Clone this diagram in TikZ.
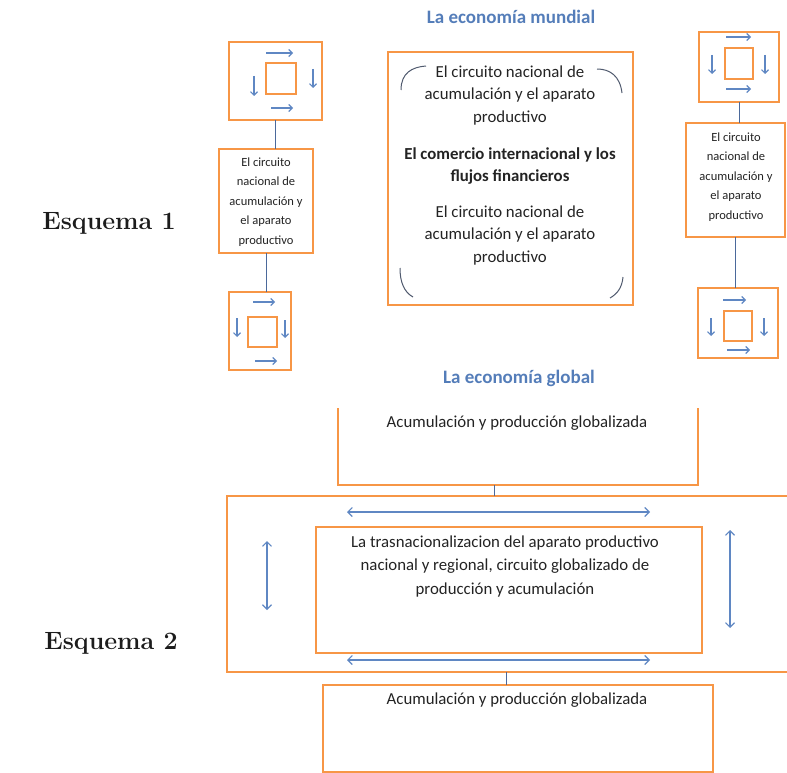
\documentclass[tikz,border=0pt]{standalone}
\usepackage{fontspec}
\newfontfamily\cf{Carlito}
\usetikzlibrary{arrows.meta}
\definecolor{org}{RGB}{247,150,70}
\definecolor{arr}{RGB}{95,135,195}
\definecolor{ttl}{RGB}{84,125,185}
\definecolor{txt}{RGB}{35,35,35}
\definecolor{conn}{RGB}{75,105,155}
\definecolor{brk}{RGB}{80,90,110}
\tikzset{
  obox/.style={draw=org, line width=2pt, inner sep=0pt, outer sep=0pt},
  sarr/.style={draw=arr, line width=1.1pt, -{Straight Barb[length=3.5pt,width=7pt]}},
  darr/.style={draw=arr, line width=1.1pt, {Straight Barb[length=4.5pt,width=9pt]}-{Straight Barb[length=4.5pt,width=9pt]}},
  conline/.style={draw=conn, line width=1pt},
  brkline/.style={draw=brk, line width=1pt},
  ttltext/.style={text=ttl, font=\cf\bfseries\fontsize{19}{22}\selectfont},
  esqtext/.style={text=txt!80!black, font=\bfseries\fontsize{25}{28}\selectfont, inner sep=0pt},
  bigtext/.style={text=txt, font=\cf\fontsize{16.8}{22.5}\selectfont, align=center, inner sep=0pt},
  smalltext/.style={text=txt, font=\cf\fontsize{12.5}{19.5}\selectfont, align=center, inner sep=0pt},
}
\begin{document}
\begin{tikzpicture}[x=1pt,y=-1pt]
\useasboundingbox (0,0) rectangle (787,773);

% titles
\node[ttltext] (t1) at (511,17) {La economía mundial};
\node[esqtext, anchor=base east] (e1) at (176,229) {Esquema 1};
\node[esqtext, anchor=base east] (e2) at (178,649) {Esquema 2};

% ---- left column ----
\node[obox, minimum width=93pt, minimum height=78pt] (lt) at (275.5,81) {};
\node[obox, minimum width=30pt, minimum height=31pt] (lti) at (281,78.5) {};
\draw[sarr] (266,53) -- (293,53);
\draw[sarr] (271,108) -- (293,108);
\draw[sarr] (254,76) -- (254,96);
\draw[sarr] (313,69) -- (313,88);

\node[obox, minimum width=94pt, minimum height=104pt] (lm) at (266,201) {};
\node[smalltext] (lmt) at (266,202) {El circuito\\nacional de\\acumulación y\\el aparato\\productivo};

\node[obox, minimum width=62pt, minimum height=78pt] (lb) at (260,331) {};
\node[obox, minimum width=29pt, minimum height=30pt] (lbi) at (262.5,332) {};
\draw[sarr] (253,302) -- (275,302);
\draw[sarr] (255,361) -- (277,361);
\draw[sarr] (237,318) -- (237,337);
\draw[sarr] (285,320) -- (285,338);

\draw[conline] (lt.south) -- (lt.south |- lm.north);
\draw[conline] (lm.south) -- (lm.south |- lb.north);

% ---- center box ----
\node[obox, minimum width=245pt, minimum height=253pt] (cb) at (510.5,178.5) {};
\node[bigtext] (cb1) at (510,95.5) {El circuito nacional de\\acumulación y el aparato\\productivo};
\node[bigtext, font=\cf\bfseries\fontsize{16.8}{22.5}\selectfont] (cb2) at (510,166) {El comercio internacional y los\\flujos financieros};
\node[bigtext] (cb3) at (510,235.5) {El circuito nacional de\\acumulación y el aparato\\productivo};
\draw[brkline] (401,90) .. controls (401,73) and (412,67) .. (426,66);
\draw[brkline] (597,69) .. controls (610,69) and (620,76) .. (622,93);
\draw[brkline] (400,268) .. controls (400,282) and (404,292) .. (413,297);
\draw[brkline] (623,277) .. controls (622,288) and (617,294) .. (610,298);

% ---- right column ----
\node[obox, minimum width=80pt, minimum height=70pt] (rt) at (739,67) {};
\node[obox, minimum width=28pt, minimum height=31pt] (rti) at (739,63.5) {};
\draw[sarr] (726,37) -- (751,37);
\draw[sarr] (726,89) -- (751,89);
\draw[sarr] (712,55) -- (712,74);
\draw[sarr] (765,55) -- (765,74);

\node[obox, minimum width=99pt, minimum height=114pt] (rm) at (735.5,180) {};
\node[smalltext] (rmt) at (736,177) {El circuito\\nacional de\\acumulación y\\el aparato\\productivo};

\node[obox, minimum width=80pt, minimum height=70pt] (rb) at (738,323) {};
\node[obox, minimum width=28pt, minimum height=30pt] (rbi) at (738,325.5) {};
\draw[sarr] (723,300) -- (746,300);
\draw[sarr] (727,350) -- (750,350);
\draw[sarr] (711,318) -- (711,336);
\draw[sarr] (764,318) -- (764,336);

\draw[conline] (rt.south) -- (rt.south |- rm.north);
\draw[conline] (rm.south) -- (rm.south |- rb.north);

% ---- Esquema 2 ----
\node[ttltext] (t2) at (519,378) {La economía global};

\coordinate (br1) at (338,408);
\coordinate (br2) at (338,485);
\coordinate (br3) at (698,485);
\coordinate (br4) at (698,408);
\draw[org, line width=2pt] (br1) -- (br2) -- (br3) -- (br4);
\node[bigtext] (bt) at (517,423) {Acumulación y producción globalizada};

\coordinate (g1) at (787,496);
\coordinate (g2) at (227,496);
\coordinate (g3) at (227,672);
\coordinate (g4) at (787,672);
\draw[org, line width=2pt] (g1) -- (g2) -- (g3) -- (g4);

\coordinate (ctop) at (494,485);
\coordinate (cbot) at (494,496);
\draw[conline] (ctop) -- (cbot);

\node[obox, minimum width=386pt, minimum height=126pt] (ib) at (509,590) {};
\node[bigtext, font=\cf\fontsize{16.8}{23.5}\selectfont] (ibt) at (505,566.5) {La trasnacionalizacion del aparato productivo\\nacional y regional, circuito globalizado de\\producción y acumulación};

\coordinate (ha1) at (347,512);
\coordinate (ha2) at (650,512);
\coordinate (hb1) at (347,660);
\coordinate (hb2) at (650,660);
\coordinate (va1) at (267,541);
\coordinate (va2) at (267,610);
\coordinate (vb1) at (730,530);
\coordinate (vb2) at (730,628);
\draw[darr] (ha1) -- (ha2);
\draw[darr] (hb1) -- (hb2);
\draw[darr] (va1) -- (va2);
\draw[darr] (vb1) -- (vb2);

\node[obox, minimum width=390pt, minimum height=87pt] (bb) at (518,728.5) {};
\node[bigtext] (bbt) at (517,700) {Acumulación y producción globalizada};
\coordinate (c2top) at (506,672);
\draw[conline] (c2top) -- (c2top |- bb.north);
\end{tikzpicture}
\end{document}
